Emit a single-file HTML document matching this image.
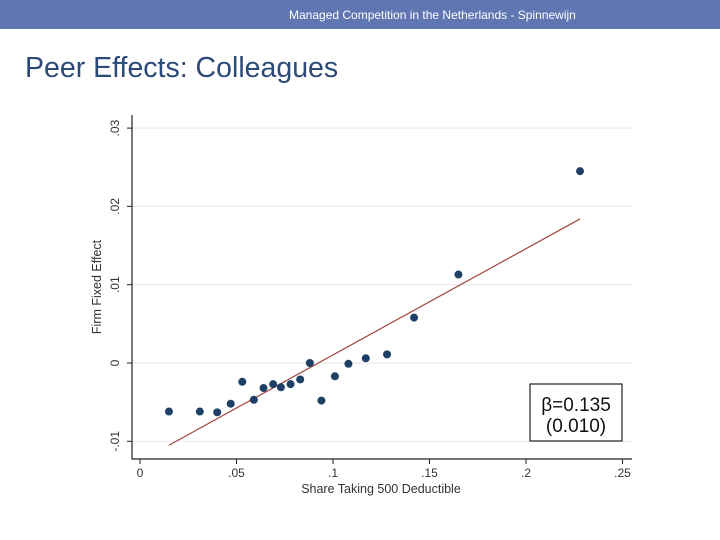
<!DOCTYPE html>
<html><head><meta charset="utf-8"><style>
body{margin:0;width:720px;height:540px;background:#fff;overflow:hidden;font-family:"Liberation Sans",sans-serif;}
#hdr{position:absolute;left:0;top:0;width:720px;height:29px;background:#5f76b2;color:#fff;font-size:12px;line-height:30px;}
#hdr span{position:absolute;left:289px;}
#title{position:absolute;left:25px;top:52px;font-size:28.5px;color:#2c4a78;}
svg{position:absolute;left:0;top:0;}
</style></head><body>
<div id="hdr"><span>Managed Competition in the Netherlands - Spinnewijn</span></div>
<div id="title">Peer Effects: Colleagues</div>
<svg id="chart" width="720" height="540"></svg>
<script>
const xVals=[0.015,0.031,0.040,0.047,0.053,0.059,0.064,0.069,0.073,0.078,0.083,0.088,0.094,0.101,0.108,0.117,0.128,0.142,0.165,0.228];
const yVals=[-0.0062,-0.0062,-0.0063,-0.0052,-0.0024,-0.0047,-0.0032,-0.0027,-0.0031,-0.0027,-0.0021,0.0000,-0.0048,-0.0017,-0.0001,0.0006,0.0011,0.0058,0.0113,0.0245];
const xTicks=[0,0.05,0.1,0.15,0.2,0.25];
const xTickLabels=["0",".05",".1",".15",".2",".25"];
const yTicks=[-0.01,0,0.01,0.02,0.03];
const yTickLabels=["-.01","0",".01",".02",".03"];
const fitX=[0.015,0.228];
const fitY=[-0.0105,0.0184];
const NS="http://www.w3.org/2000/svg";
const svg=document.getElementById('chart');
const sx=v=>140+v*1930;
const sy=v=>363-v*7830;
function mk(t,a,txt){const e=document.createElementNS(NS,t);for(const k in a)e.setAttribute(k,a[k]);if(txt!==undefined)e.textContent=txt;svg.appendChild(e);return e;}
yTicks.forEach((v,i)=>{
 const g=mk('line',{x1:132,x2:632,y1:sy(v),y2:sy(v),stroke:'#eaeaea','stroke-width':1.2});
 
 
 const t=mk('line',{x1:127,x2:132,y1:sy(v),y2:sy(v),stroke:'#222'});
 
 
 const l=mk('text',{x:0,y:0,transform:`translate(119,${sy(v)}) rotate(-90)`,'text-anchor':'middle','font-size':12,fill:'#333'},yTickLabels[i]);
 
 
});
xTicks.forEach((v,i)=>{
 const t=mk('line',{x1:sx(v),x2:sx(v),y1:459,y2:464,stroke:'#222'});
 
 
 const l=mk('text',{x:sx(v),y:477,'text-anchor':'middle','font-size':12,fill:'#333'},xTickLabels[i]);
 
 
});
const ax=mk('path',{d:'M132 115 V459 H632',fill:'none',stroke:'#222','stroke-width':1.2});


const fl=mk('line',{x1:sx(fitX[0]),y1:sy(fitY[0]),x2:sx(fitX[1]),y2:sy(fitY[1]),stroke:'#a0443c','stroke-width':1.2});


xVals.forEach((v,i)=>{
 const c=mk('circle',{cx:sx(v),cy:sy(yVals[i]),r:4,fill:'#1e3f66'});
 
 
});
const bx=mk('rect',{x:530,y:384,width:92,height:57,fill:'#fff',stroke:'#222','stroke-width':1.2});


const b1=mk('text',{x:576,y:411,'text-anchor':'middle','font-size':19,fill:'#111'},'β=0.135');


const b2=mk('text',{x:576,y:432,'text-anchor':'middle','font-size':19,fill:'#111'},'(0.010)');


const xt=mk('text',{x:381,y:493,'text-anchor':'middle','font-size':12.5,fill:'#333'},'Share Taking 500 Deductible');


const yt=mk('text',{x:0,y:0,transform:'translate(101,287) rotate(-90)','text-anchor':'middle','font-size':12.5,fill:'#333'},'Firm Fixed Effect');


</script>
</body></html>
